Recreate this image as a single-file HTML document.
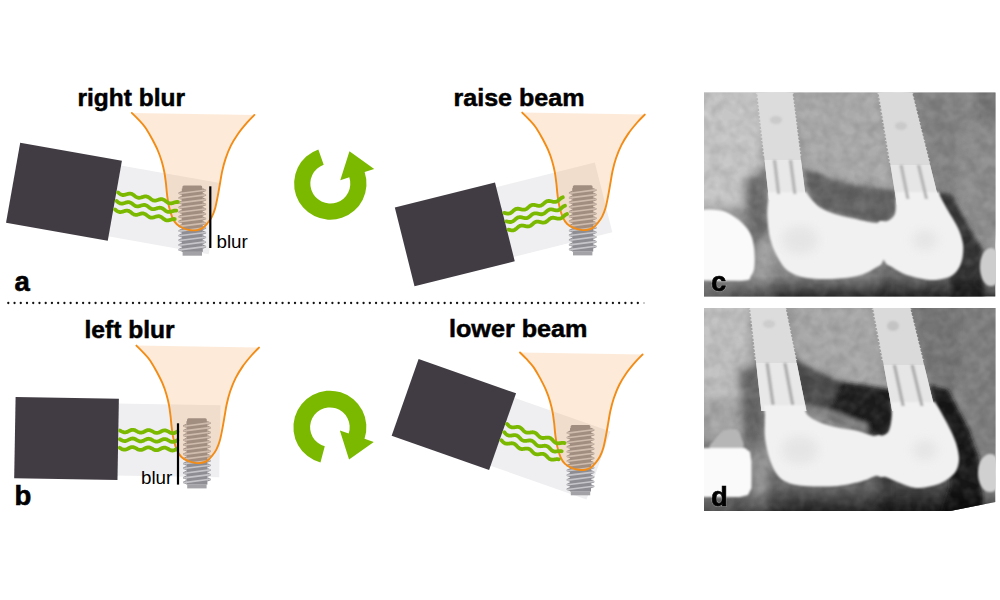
<!DOCTYPE html>
<html><head><meta charset="utf-8"><style>
html,body{margin:0;padding:0;background:#fff;}
body{width:1000px;height:600px;overflow:hidden;}
svg{display:block;}
text{font-family:"Liberation Sans",sans-serif;}
</style></head><body>
<svg width="1000" height="600" viewBox="0 0 1000 600">
<defs>
<g id="implant"><rect x="50.6" y="72.6" width="19.8" height="5" rx="1.5" fill="#8d8d93"/>
<rect x="50.0" y="75.6" width="21.0" height="63.4" fill="#8d8d93"/>
<path d="M50.0,78.1 L46.7,79.7 L46.7,81.1 L50.0,82.2 Z" fill="#8d8d93"/>
<path d="M71.0,75.3 L74.3,76.8 L74.3,78.2 L71.0,79.4 Z" fill="#8d8d93"/>
<line x1="47.6" y1="80.6" x2="73.4" y2="77.3" stroke="#c6c6ca" stroke-width="1.6" stroke-linecap="round"/>
<path d="M50.0,82.8 L46.7,84.4 L46.7,85.8 L50.0,86.9 Z" fill="#8d8d93"/>
<path d="M71.0,80.0 L74.3,81.5 L74.3,82.9 L71.0,84.1 Z" fill="#8d8d93"/>
<line x1="47.6" y1="85.3" x2="73.4" y2="82.0" stroke="#c6c6ca" stroke-width="1.6" stroke-linecap="round"/>
<path d="M50.0,87.5 L46.7,89.1 L46.7,90.5 L50.0,91.6 Z" fill="#8d8d93"/>
<path d="M71.0,84.7 L74.3,86.2 L74.3,87.6 L71.0,88.8 Z" fill="#8d8d93"/>
<line x1="47.6" y1="90.0" x2="73.4" y2="86.7" stroke="#c6c6ca" stroke-width="1.6" stroke-linecap="round"/>
<path d="M50.0,92.2 L46.7,93.8 L46.7,95.2 L50.0,96.3 Z" fill="#8d8d93"/>
<path d="M71.0,89.4 L74.3,90.9 L74.3,92.3 L71.0,93.5 Z" fill="#8d8d93"/>
<line x1="47.6" y1="94.7" x2="73.4" y2="91.4" stroke="#c6c6ca" stroke-width="1.6" stroke-linecap="round"/>
<path d="M50.0,96.9 L46.7,98.5 L46.7,99.9 L50.0,101.0 Z" fill="#8d8d93"/>
<path d="M71.0,94.1 L74.3,95.6 L74.3,97.0 L71.0,98.2 Z" fill="#8d8d93"/>
<line x1="47.6" y1="99.4" x2="73.4" y2="96.1" stroke="#c6c6ca" stroke-width="1.6" stroke-linecap="round"/>
<path d="M50.0,101.6 L46.7,103.2 L46.7,104.6 L50.0,105.7 Z" fill="#8d8d93"/>
<path d="M71.0,98.8 L74.3,100.3 L74.3,101.7 L71.0,102.9 Z" fill="#8d8d93"/>
<line x1="47.6" y1="104.1" x2="73.4" y2="100.8" stroke="#c6c6ca" stroke-width="1.6" stroke-linecap="round"/>
<path d="M50.0,106.3 L46.7,107.9 L46.7,109.3 L50.0,110.4 Z" fill="#8d8d93"/>
<path d="M71.0,103.5 L74.3,105.0 L74.3,106.4 L71.0,107.6 Z" fill="#8d8d93"/>
<line x1="47.6" y1="108.8" x2="73.4" y2="105.5" stroke="#c6c6ca" stroke-width="1.6" stroke-linecap="round"/>
<path d="M50.0,111.0 L46.7,112.6 L46.7,114.0 L50.0,115.1 Z" fill="#8d8d93"/>
<path d="M71.0,108.2 L74.3,109.7 L74.3,111.1 L71.0,112.3 Z" fill="#8d8d93"/>
<line x1="47.6" y1="113.5" x2="73.4" y2="110.2" stroke="#c6c6ca" stroke-width="1.6" stroke-linecap="round"/>
<path d="M50.0,115.7 L46.7,117.3 L46.7,118.7 L50.0,119.8 Z" fill="#8d8d93"/>
<path d="M71.0,112.9 L74.3,114.4 L74.3,115.8 L71.0,117.0 Z" fill="#8d8d93"/>
<line x1="47.6" y1="118.2" x2="73.4" y2="114.9" stroke="#c6c6ca" stroke-width="1.6" stroke-linecap="round"/>
<path d="M50.0,120.4 L46.7,122.0 L46.7,123.4 L50.0,124.5 Z" fill="#8d8d93"/>
<path d="M71.0,117.6 L74.3,119.1 L74.3,120.5 L71.0,121.7 Z" fill="#8d8d93"/>
<line x1="47.6" y1="122.9" x2="73.4" y2="119.6" stroke="#c6c6ca" stroke-width="1.6" stroke-linecap="round"/>
<path d="M50.0,125.1 L46.7,126.7 L46.7,128.1 L50.0,129.2 Z" fill="#8d8d93"/>
<path d="M71.0,122.3 L74.3,123.8 L74.3,125.2 L71.0,126.4 Z" fill="#8d8d93"/>
<line x1="47.6" y1="127.6" x2="73.4" y2="124.3" stroke="#c6c6ca" stroke-width="1.6" stroke-linecap="round"/>
<path d="M50.0,129.8 L46.7,131.4 L46.7,132.8 L50.0,133.9 Z" fill="#8d8d93"/>
<path d="M71.0,127.0 L74.3,128.5 L74.3,129.9 L71.0,131.1 Z" fill="#8d8d93"/>
<line x1="47.6" y1="132.3" x2="73.4" y2="129.0" stroke="#c6c6ca" stroke-width="1.6" stroke-linecap="round"/>
<path d="M50.0,134.5 L46.7,136.1 L46.7,137.5 L50.0,138.6 Z" fill="#8d8d93"/>
<path d="M71.0,131.7 L74.3,133.2 L74.3,134.6 L71.0,135.8 Z" fill="#8d8d93"/>
<line x1="47.6" y1="137.0" x2="73.4" y2="133.7" stroke="#c6c6ca" stroke-width="1.6" stroke-linecap="round"/>
<rect x="50.8" y="138.8" width="19.4" height="4.0" fill="#a3a3a7"/></g>
<clipPath id="toothclip"><path d="M0.0,0.0 C1.1,1.1 4.4,4.3 6.7,6.7 C8.9,9.1 11.2,11.4 13.5,14.6 C15.8,17.8 18.1,22.2 20.2,25.9 C22.2,29.7 24.2,33.3 25.8,37.1 C27.4,40.8 28.8,44.7 29.9,48.4 C31.0,52.2 31.9,55.8 32.6,59.6 C33.3,63.3 33.7,67.2 34.2,70.9 C34.6,74.7 34.8,78.3 35.3,82.1 C35.8,85.8 36.2,89.7 37.1,93.4 C38.0,97.2 39.2,101.6 40.5,104.6 C41.8,107.6 43.1,109.6 45.0,111.4 C46.9,113.2 49.7,114.6 52.0,115.6 C54.3,116.6 56.8,117.0 59.0,117.3 C61.2,117.6 63.5,117.6 65.5,117.2 C67.5,116.8 69.3,116.1 71.0,115.0 C72.7,113.9 73.9,112.4 75.4,110.6 C76.9,108.8 78.5,106.8 79.8,104.3 C81.1,101.8 82.3,99.0 83.3,95.5 C84.3,92.0 85.2,87.2 86.0,83.0 C86.8,78.8 87.5,74.6 88.2,70.6 C88.9,66.5 89.4,62.9 90.3,58.7 C91.2,54.6 92.3,50.1 93.8,45.7 C95.3,41.3 97.1,36.6 99.2,32.5 C101.3,28.3 103.7,24.6 106.3,20.8 C108.9,17.0 112.3,13.0 115.0,9.9 C117.7,6.8 121.3,3.3 122.6,2.0 Z"/></clipPath>
</defs>

<g transform="translate(20.20,142.80) rotate(10.03)">
<rect x="100" y="4.8" width="105" height="72" fill="#efeff1"/>
<rect x="0" y="0" width="103.3" height="81.3" fill="#413c43"/>
</g>
<g transform="translate(15.60,396.90) rotate(1.00)">
<rect x="100" y="4.8" width="105" height="72" fill="#efeff1"/>
<rect x="0" y="0" width="103.3" height="81.3" fill="#413c43"/>
</g>
<g transform="translate(394.80,207.50) rotate(-14.04)">
<rect x="100" y="4.8" width="105" height="72" fill="#efeff1"/>
<rect x="0" y="0" width="103.3" height="81.3" fill="#413c43"/>
</g>
<g transform="translate(418.60,359.10) rotate(19.36)">
<rect x="100" y="4.8" width="105" height="72" fill="#efeff1"/>
<rect x="0" y="0" width="103.3" height="81.3" fill="#413c43"/>
</g>
<clipPath id="notooth"><path clip-rule="evenodd" d="M0,0 H1000 V600 H0 Z M131.8,112.9 C132.9,114.0 136.2,117.2 138.5,119.6 C140.8,122.0 143.1,124.3 145.3,127.5 C147.6,130.7 149.9,135.1 152.0,138.8 C154.1,142.6 156.0,146.2 157.6,150.0 C159.2,153.8 160.6,157.6 161.7,161.3 C162.8,165.1 163.7,168.8 164.4,172.5 C165.1,176.2 165.6,180.1 166.0,183.8 C166.4,187.6 166.6,191.2 167.1,195.0 C167.6,198.8 168.0,202.6 168.9,206.3 C169.8,210.1 171.0,214.5 172.3,217.5 C173.6,220.5 174.9,222.5 176.8,224.3 C178.7,226.1 181.5,227.5 183.8,228.5 C186.1,229.5 188.6,229.9 190.8,230.2 C193.1,230.5 195.3,230.5 197.3,230.1 C199.3,229.7 201.2,229.0 202.8,227.9 C204.5,226.8 205.7,225.3 207.2,223.5 C208.7,221.7 210.3,219.7 211.6,217.2 C212.9,214.7 214.1,211.9 215.1,208.4 C216.1,204.9 217.0,200.1 217.8,195.9 C218.6,191.8 219.3,187.6 220.0,183.5 C220.7,179.4 221.2,175.8 222.1,171.6 C223.0,167.5 224.1,163.0 225.6,158.6 C227.1,154.2 228.9,149.6 231.0,145.4 C233.1,141.2 235.5,137.5 238.1,133.7 C240.7,129.9 244.1,125.9 246.8,122.8 C249.5,119.7 253.1,116.2 254.4,114.9 Z"/></clipPath><rect x="211.4" y="176" width="14" height="72" fill="#fff" clip-path="url(#notooth)"/>
<g transform="translate(131.80,112.90)">
<use href="#implant"/>
<path d="M0.0,0.0 C1.1,1.1 4.4,4.3 6.7,6.7 C8.9,9.1 11.2,11.4 13.5,14.6 C15.8,17.8 18.1,22.2 20.2,25.9 C22.2,29.7 24.2,33.3 25.8,37.1 C27.4,40.8 28.8,44.7 29.9,48.4 C31.0,52.2 31.9,55.8 32.6,59.6 C33.3,63.3 33.7,67.2 34.2,70.9 C34.6,74.7 34.8,78.3 35.3,82.1 C35.8,85.8 36.2,89.7 37.1,93.4 C38.0,97.2 39.2,101.6 40.5,104.6 C41.8,107.6 43.1,109.6 45.0,111.4 C46.9,113.2 49.7,114.6 52.0,115.6 C54.3,116.6 56.8,117.0 59.0,117.3 C61.2,117.6 63.5,117.6 65.5,117.2 C67.5,116.8 69.3,116.1 71.0,115.0 C72.7,113.9 73.9,112.4 75.4,110.6 C76.9,108.8 78.5,106.8 79.8,104.3 C81.1,101.8 82.3,99.0 83.3,95.5 C84.3,92.0 85.2,87.2 86.0,83.0 C86.8,78.8 87.5,74.6 88.2,70.6 C88.9,66.5 89.4,62.9 90.3,58.7 C91.2,54.6 92.3,50.1 93.8,45.7 C95.3,41.3 97.1,36.6 99.2,32.5 C101.3,28.3 103.7,24.6 106.3,20.8 C108.9,17.0 112.3,13.0 115.0,9.9 C117.7,6.8 121.3,3.3 122.6,2.0 Z" fill="rgba(245,150,60,0.2)"/>
<path d="M0.0,0.0 C1.1,1.1 4.4,4.3 6.7,6.7 C8.9,9.1 11.2,11.4 13.5,14.6 C15.8,17.8 18.1,22.2 20.2,25.9 C22.2,29.7 24.2,33.3 25.8,37.1 C27.4,40.8 28.8,44.7 29.9,48.4 C31.0,52.2 31.9,55.8 32.6,59.6 C33.3,63.3 33.7,67.2 34.2,70.9 C34.6,74.7 34.8,78.3 35.3,82.1 C35.8,85.8 36.2,89.7 37.1,93.4 C38.0,97.2 39.2,101.6 40.5,104.6 C41.8,107.6 43.1,109.6 45.0,111.4 C46.9,113.2 49.7,114.6 52.0,115.6 C54.3,116.6 56.8,117.0 59.0,117.3 C61.2,117.6 63.5,117.6 65.5,117.2 C67.5,116.8 69.3,116.1 71.0,115.0 C72.7,113.9 73.9,112.4 75.4,110.6 C76.9,108.8 78.5,106.8 79.8,104.3 C81.1,101.8 82.3,99.0 83.3,95.5 C84.3,92.0 85.2,87.2 86.0,83.0 C86.8,78.8 87.5,74.6 88.2,70.6 C88.9,66.5 89.4,62.9 90.3,58.7 C91.2,54.6 92.3,50.1 93.8,45.7 C95.3,41.3 97.1,36.6 99.2,32.5 C101.3,28.3 103.7,24.6 106.3,20.8 C108.9,17.0 112.3,13.0 115.0,9.9 C117.7,6.8 121.3,3.3 122.6,2.0" fill="none" stroke="#f28c16" stroke-width="1.9" stroke-linecap="round"/>
</g>
<g transform="translate(136.40,345.60)">
<use href="#implant"/>
<path d="M0.0,0.0 C1.1,1.1 4.4,4.3 6.7,6.7 C8.9,9.1 11.2,11.4 13.5,14.6 C15.8,17.8 18.1,22.2 20.2,25.9 C22.2,29.7 24.2,33.3 25.8,37.1 C27.4,40.8 28.8,44.7 29.9,48.4 C31.0,52.2 31.9,55.8 32.6,59.6 C33.3,63.3 33.7,67.2 34.2,70.9 C34.6,74.7 34.8,78.3 35.3,82.1 C35.8,85.8 36.2,89.7 37.1,93.4 C38.0,97.2 39.2,101.6 40.5,104.6 C41.8,107.6 43.1,109.6 45.0,111.4 C46.9,113.2 49.7,114.6 52.0,115.6 C54.3,116.6 56.8,117.0 59.0,117.3 C61.2,117.6 63.5,117.6 65.5,117.2 C67.5,116.8 69.3,116.1 71.0,115.0 C72.7,113.9 73.9,112.4 75.4,110.6 C76.9,108.8 78.5,106.8 79.8,104.3 C81.1,101.8 82.3,99.0 83.3,95.5 C84.3,92.0 85.2,87.2 86.0,83.0 C86.8,78.8 87.5,74.6 88.2,70.6 C88.9,66.5 89.4,62.9 90.3,58.7 C91.2,54.6 92.3,50.1 93.8,45.7 C95.3,41.3 97.1,36.6 99.2,32.5 C101.3,28.3 103.7,24.6 106.3,20.8 C108.9,17.0 112.3,13.0 115.0,9.9 C117.7,6.8 121.3,3.3 122.6,2.0 Z" fill="rgba(245,150,60,0.2)"/>
<path d="M0.0,0.0 C1.1,1.1 4.4,4.3 6.7,6.7 C8.9,9.1 11.2,11.4 13.5,14.6 C15.8,17.8 18.1,22.2 20.2,25.9 C22.2,29.7 24.2,33.3 25.8,37.1 C27.4,40.8 28.8,44.7 29.9,48.4 C31.0,52.2 31.9,55.8 32.6,59.6 C33.3,63.3 33.7,67.2 34.2,70.9 C34.6,74.7 34.8,78.3 35.3,82.1 C35.8,85.8 36.2,89.7 37.1,93.4 C38.0,97.2 39.2,101.6 40.5,104.6 C41.8,107.6 43.1,109.6 45.0,111.4 C46.9,113.2 49.7,114.6 52.0,115.6 C54.3,116.6 56.8,117.0 59.0,117.3 C61.2,117.6 63.5,117.6 65.5,117.2 C67.5,116.8 69.3,116.1 71.0,115.0 C72.7,113.9 73.9,112.4 75.4,110.6 C76.9,108.8 78.5,106.8 79.8,104.3 C81.1,101.8 82.3,99.0 83.3,95.5 C84.3,92.0 85.2,87.2 86.0,83.0 C86.8,78.8 87.5,74.6 88.2,70.6 C88.9,66.5 89.4,62.9 90.3,58.7 C91.2,54.6 92.3,50.1 93.8,45.7 C95.3,41.3 97.1,36.6 99.2,32.5 C101.3,28.3 103.7,24.6 106.3,20.8 C108.9,17.0 112.3,13.0 115.0,9.9 C117.7,6.8 121.3,3.3 122.6,2.0" fill="none" stroke="#f28c16" stroke-width="1.9" stroke-linecap="round"/>
</g>
<g transform="translate(522.20,112.60)">
<use href="#implant"/>
<path d="M0.0,0.0 C1.1,1.1 4.4,4.3 6.7,6.7 C8.9,9.1 11.2,11.4 13.5,14.6 C15.8,17.8 18.1,22.2 20.2,25.9 C22.2,29.7 24.2,33.3 25.8,37.1 C27.4,40.8 28.8,44.7 29.9,48.4 C31.0,52.2 31.9,55.8 32.6,59.6 C33.3,63.3 33.7,67.2 34.2,70.9 C34.6,74.7 34.8,78.3 35.3,82.1 C35.8,85.8 36.2,89.7 37.1,93.4 C38.0,97.2 39.2,101.6 40.5,104.6 C41.8,107.6 43.1,109.6 45.0,111.4 C46.9,113.2 49.7,114.6 52.0,115.6 C54.3,116.6 56.8,117.0 59.0,117.3 C61.2,117.6 63.5,117.6 65.5,117.2 C67.5,116.8 69.3,116.1 71.0,115.0 C72.7,113.9 73.9,112.4 75.4,110.6 C76.9,108.8 78.5,106.8 79.8,104.3 C81.1,101.8 82.3,99.0 83.3,95.5 C84.3,92.0 85.2,87.2 86.0,83.0 C86.8,78.8 87.5,74.6 88.2,70.6 C88.9,66.5 89.4,62.9 90.3,58.7 C91.2,54.6 92.3,50.1 93.8,45.7 C95.3,41.3 97.1,36.6 99.2,32.5 C101.3,28.3 103.7,24.6 106.3,20.8 C108.9,17.0 112.3,13.0 115.0,9.9 C117.7,6.8 121.3,3.3 122.6,2.0 Z" fill="rgba(245,150,60,0.2)"/>
<path d="M0.0,0.0 C1.1,1.1 4.4,4.3 6.7,6.7 C8.9,9.1 11.2,11.4 13.5,14.6 C15.8,17.8 18.1,22.2 20.2,25.9 C22.2,29.7 24.2,33.3 25.8,37.1 C27.4,40.8 28.8,44.7 29.9,48.4 C31.0,52.2 31.9,55.8 32.6,59.6 C33.3,63.3 33.7,67.2 34.2,70.9 C34.6,74.7 34.8,78.3 35.3,82.1 C35.8,85.8 36.2,89.7 37.1,93.4 C38.0,97.2 39.2,101.6 40.5,104.6 C41.8,107.6 43.1,109.6 45.0,111.4 C46.9,113.2 49.7,114.6 52.0,115.6 C54.3,116.6 56.8,117.0 59.0,117.3 C61.2,117.6 63.5,117.6 65.5,117.2 C67.5,116.8 69.3,116.1 71.0,115.0 C72.7,113.9 73.9,112.4 75.4,110.6 C76.9,108.8 78.5,106.8 79.8,104.3 C81.1,101.8 82.3,99.0 83.3,95.5 C84.3,92.0 85.2,87.2 86.0,83.0 C86.8,78.8 87.5,74.6 88.2,70.6 C88.9,66.5 89.4,62.9 90.3,58.7 C91.2,54.6 92.3,50.1 93.8,45.7 C95.3,41.3 97.1,36.6 99.2,32.5 C101.3,28.3 103.7,24.6 106.3,20.8 C108.9,17.0 112.3,13.0 115.0,9.9 C117.7,6.8 121.3,3.3 122.6,2.0" fill="none" stroke="#f28c16" stroke-width="1.9" stroke-linecap="round"/>
</g>
<g transform="translate(520.00,352.50)">
<use href="#implant"/>
<path d="M0.0,0.0 C1.1,1.1 4.4,4.3 6.7,6.7 C8.9,9.1 11.2,11.4 13.5,14.6 C15.8,17.8 18.1,22.2 20.2,25.9 C22.2,29.7 24.2,33.3 25.8,37.1 C27.4,40.8 28.8,44.7 29.9,48.4 C31.0,52.2 31.9,55.8 32.6,59.6 C33.3,63.3 33.7,67.2 34.2,70.9 C34.6,74.7 34.8,78.3 35.3,82.1 C35.8,85.8 36.2,89.7 37.1,93.4 C38.0,97.2 39.2,101.6 40.5,104.6 C41.8,107.6 43.1,109.6 45.0,111.4 C46.9,113.2 49.7,114.6 52.0,115.6 C54.3,116.6 56.8,117.0 59.0,117.3 C61.2,117.6 63.5,117.6 65.5,117.2 C67.5,116.8 69.3,116.1 71.0,115.0 C72.7,113.9 73.9,112.4 75.4,110.6 C76.9,108.8 78.5,106.8 79.8,104.3 C81.1,101.8 82.3,99.0 83.3,95.5 C84.3,92.0 85.2,87.2 86.0,83.0 C86.8,78.8 87.5,74.6 88.2,70.6 C88.9,66.5 89.4,62.9 90.3,58.7 C91.2,54.6 92.3,50.1 93.8,45.7 C95.3,41.3 97.1,36.6 99.2,32.5 C101.3,28.3 103.7,24.6 106.3,20.8 C108.9,17.0 112.3,13.0 115.0,9.9 C117.7,6.8 121.3,3.3 122.6,2.0 Z" fill="rgba(245,150,60,0.2)"/>
<path d="M0.0,0.0 C1.1,1.1 4.4,4.3 6.7,6.7 C8.9,9.1 11.2,11.4 13.5,14.6 C15.8,17.8 18.1,22.2 20.2,25.9 C22.2,29.7 24.2,33.3 25.8,37.1 C27.4,40.8 28.8,44.7 29.9,48.4 C31.0,52.2 31.9,55.8 32.6,59.6 C33.3,63.3 33.7,67.2 34.2,70.9 C34.6,74.7 34.8,78.3 35.3,82.1 C35.8,85.8 36.2,89.7 37.1,93.4 C38.0,97.2 39.2,101.6 40.5,104.6 C41.8,107.6 43.1,109.6 45.0,111.4 C46.9,113.2 49.7,114.6 52.0,115.6 C54.3,116.6 56.8,117.0 59.0,117.3 C61.2,117.6 63.5,117.6 65.5,117.2 C67.5,116.8 69.3,116.1 71.0,115.0 C72.7,113.9 73.9,112.4 75.4,110.6 C76.9,108.8 78.5,106.8 79.8,104.3 C81.1,101.8 82.3,99.0 83.3,95.5 C84.3,92.0 85.2,87.2 86.0,83.0 C86.8,78.8 87.5,74.6 88.2,70.6 C88.9,66.5 89.4,62.9 90.3,58.7 C91.2,54.6 92.3,50.1 93.8,45.7 C95.3,41.3 97.1,36.6 99.2,32.5 C101.3,28.3 103.7,24.6 106.3,20.8 C108.9,17.0 112.3,13.0 115.0,9.9 C117.7,6.8 121.3,3.3 122.6,2.0" fill="none" stroke="#f28c16" stroke-width="1.9" stroke-linecap="round"/>
</g>
<g transform="translate(20.20,142.80) rotate(10.03)" fill="none" stroke="#7ab900" stroke-width="3.8" stroke-linecap="round">
<path d="M105.00,31.83 L105.50,32.09 L106.00,32.36 L106.50,32.62 L107.00,32.86 L107.50,33.08 L108.00,33.26 L108.50,33.40 L109.00,33.50 L109.50,33.55 L110.00,33.54 L110.50,33.48 L111.00,33.38 L111.50,33.23 L112.00,33.04 L112.50,32.81 L113.00,32.57 L113.50,32.31 L114.00,32.04 L114.50,31.78 L115.00,31.54 L115.50,31.32 L116.00,31.14 L116.50,31.00 L117.00,30.90 L117.50,30.85 L118.00,30.86 L118.50,30.92 L119.00,31.02 L119.50,31.17 L120.00,31.36 L120.50,31.59 L121.00,31.83 L121.50,32.09 L122.00,32.36 L122.50,32.62 L123.00,32.86 L123.50,33.08 L124.00,33.26 L124.50,33.40 L125.00,33.50 L125.50,33.55 L126.00,33.54 L126.50,33.48 L127.00,33.38 L127.50,33.23 L128.00,33.04 L128.50,32.81 L129.00,32.57 L129.50,32.31 L130.00,32.04 L130.50,31.78 L131.00,31.54 L131.50,31.32 L132.00,31.14 L132.50,31.00 L133.00,30.90 L133.50,30.85 L134.00,30.86 L134.50,30.92 L135.00,31.02 L135.50,31.17 L136.00,31.36 L136.50,31.59 L137.00,31.83 L137.50,32.09 L138.00,32.36 L138.50,32.62 L139.00,32.86 L139.50,33.08 L140.00,33.26 L140.50,33.40 L141.00,33.50 L141.50,33.55 L142.00,33.54 L142.50,33.48 L143.00,33.38 L143.50,33.23 L144.00,33.04 L144.50,32.81 L145.00,32.57 L145.50,32.31 L146.00,32.04 L146.50,31.78 L147.00,31.54 L147.50,31.32 L148.00,31.14 L148.50,31.00 L149.00,30.90 L149.50,30.85 L150.00,30.86 L150.50,30.92 L151.00,31.02 L151.50,31.17 L152.00,31.36 L152.50,31.59 L153.00,31.83 L153.50,32.09 L154.00,32.36 L154.50,32.62 L155.00,32.86 L155.50,33.08 L156.00,33.26 L156.50,33.40 L157.00,33.50 L157.50,33.55 L158.00,33.54 L158.50,33.48 L159.00,33.38 L159.50,33.23 L160.00,33.04 L160.50,32.81 L161.00,32.57 L161.50,32.31 L162.00,32.04 L162.50,31.78 L163.00,31.54 L163.50,31.32 L164.00,31.14 L164.50,31.00 L165.00,30.90 L165.50,30.85"/>
<path d="M105.00,40.53 L105.50,40.79 L106.00,41.06 L106.50,41.32 L107.00,41.56 L107.50,41.78 L108.00,41.96 L108.50,42.10 L109.00,42.20 L109.50,42.25 L110.00,42.24 L110.50,42.18 L111.00,42.08 L111.50,41.93 L112.00,41.74 L112.50,41.51 L113.00,41.27 L113.50,41.01 L114.00,40.74 L114.50,40.48 L115.00,40.24 L115.50,40.02 L116.00,39.84 L116.50,39.70 L117.00,39.60 L117.50,39.55 L118.00,39.56 L118.50,39.62 L119.00,39.72 L119.50,39.87 L120.00,40.06 L120.50,40.29 L121.00,40.53 L121.50,40.79 L122.00,41.06 L122.50,41.32 L123.00,41.56 L123.50,41.78 L124.00,41.96 L124.50,42.10 L125.00,42.20 L125.50,42.25 L126.00,42.24 L126.50,42.18 L127.00,42.08 L127.50,41.93 L128.00,41.74 L128.50,41.51 L129.00,41.27 L129.50,41.01 L130.00,40.74 L130.50,40.48 L131.00,40.24 L131.50,40.02 L132.00,39.84 L132.50,39.70 L133.00,39.60 L133.50,39.55 L134.00,39.56 L134.50,39.62 L135.00,39.72 L135.50,39.87 L136.00,40.06 L136.50,40.29 L137.00,40.53 L137.50,40.79 L138.00,41.06 L138.50,41.32 L139.00,41.56 L139.50,41.78 L140.00,41.96 L140.50,42.10 L141.00,42.20 L141.50,42.25 L142.00,42.24 L142.50,42.18 L143.00,42.08 L143.50,41.93 L144.00,41.74 L144.50,41.51 L145.00,41.27 L145.50,41.01 L146.00,40.74 L146.50,40.48 L147.00,40.24 L147.50,40.02 L148.00,39.84 L148.50,39.70 L149.00,39.60 L149.50,39.55 L150.00,39.56 L150.50,39.62 L151.00,39.72 L151.50,39.87 L152.00,40.06 L152.50,40.29 L153.00,40.53 L153.50,40.79 L154.00,41.06 L154.50,41.32 L155.00,41.56 L155.50,41.78 L156.00,41.96 L156.50,42.10 L157.00,42.20 L157.50,42.25 L158.00,42.24 L158.50,42.18 L159.00,42.08 L159.50,41.93 L160.00,41.74 L160.50,41.51 L161.00,41.27 L161.50,41.01 L162.00,40.74 L162.50,40.48 L163.00,40.24 L163.50,40.02 L164.00,39.84 L164.50,39.70 L165.00,39.60 L165.50,39.55"/>
<path d="M105.00,49.13 L105.50,49.39 L106.00,49.66 L106.50,49.92 L107.00,50.16 L107.50,50.38 L108.00,50.56 L108.50,50.70 L109.00,50.80 L109.50,50.85 L110.00,50.84 L110.50,50.78 L111.00,50.68 L111.50,50.53 L112.00,50.34 L112.50,50.11 L113.00,49.87 L113.50,49.61 L114.00,49.34 L114.50,49.08 L115.00,48.84 L115.50,48.62 L116.00,48.44 L116.50,48.30 L117.00,48.20 L117.50,48.15 L118.00,48.16 L118.50,48.22 L119.00,48.32 L119.50,48.47 L120.00,48.66 L120.50,48.89 L121.00,49.13 L121.50,49.39 L122.00,49.66 L122.50,49.92 L123.00,50.16 L123.50,50.38 L124.00,50.56 L124.50,50.70 L125.00,50.80 L125.50,50.85 L126.00,50.84 L126.50,50.78 L127.00,50.68 L127.50,50.53 L128.00,50.34 L128.50,50.11 L129.00,49.87 L129.50,49.61 L130.00,49.34 L130.50,49.08 L131.00,48.84 L131.50,48.62 L132.00,48.44 L132.50,48.30 L133.00,48.20 L133.50,48.15 L134.00,48.16 L134.50,48.22 L135.00,48.32 L135.50,48.47 L136.00,48.66 L136.50,48.89 L137.00,49.13 L137.50,49.39 L138.00,49.66 L138.50,49.92 L139.00,50.16 L139.50,50.38 L140.00,50.56 L140.50,50.70 L141.00,50.80 L141.50,50.85 L142.00,50.84 L142.50,50.78 L143.00,50.68 L143.50,50.53 L144.00,50.34 L144.50,50.11 L145.00,49.87 L145.50,49.61 L146.00,49.34 L146.50,49.08 L147.00,48.84 L147.50,48.62 L148.00,48.44 L148.50,48.30 L149.00,48.20 L149.50,48.15 L150.00,48.16 L150.50,48.22 L151.00,48.32 L151.50,48.47 L152.00,48.66 L152.50,48.89 L153.00,49.13 L153.50,49.39 L154.00,49.66 L154.50,49.92 L155.00,50.16 L155.50,50.38 L156.00,50.56 L156.50,50.70 L157.00,50.80 L157.50,50.85 L158.00,50.84 L158.50,50.78 L159.00,50.68 L159.50,50.53 L160.00,50.34 L160.50,50.11 L161.00,49.87 L161.50,49.61 L162.00,49.34 L162.50,49.08 L163.00,48.84 L163.50,48.62 L164.00,48.44 L164.50,48.30 L165.00,48.20 L165.50,48.15"/>
</g>
<g transform="translate(15.60,396.90) rotate(1.00)" fill="none" stroke="#7ab900" stroke-width="3.8" stroke-linecap="round">
<path d="M105.00,31.83 L105.50,32.09 L106.00,32.36 L106.50,32.62 L107.00,32.86 L107.50,33.08 L108.00,33.26 L108.50,33.40 L109.00,33.50 L109.50,33.55 L110.00,33.54 L110.50,33.48 L111.00,33.38 L111.50,33.23 L112.00,33.04 L112.50,32.81 L113.00,32.57 L113.50,32.31 L114.00,32.04 L114.50,31.78 L115.00,31.54 L115.50,31.32 L116.00,31.14 L116.50,31.00 L117.00,30.90 L117.50,30.85 L118.00,30.86 L118.50,30.92 L119.00,31.02 L119.50,31.17 L120.00,31.36 L120.50,31.59 L121.00,31.83 L121.50,32.09 L122.00,32.36 L122.50,32.62 L123.00,32.86 L123.50,33.08 L124.00,33.26 L124.50,33.40 L125.00,33.50 L125.50,33.55 L126.00,33.54 L126.50,33.48 L127.00,33.38 L127.50,33.23 L128.00,33.04 L128.50,32.81 L129.00,32.57 L129.50,32.31 L130.00,32.04 L130.50,31.78 L131.00,31.54 L131.50,31.32 L132.00,31.14 L132.50,31.00 L133.00,30.90 L133.50,30.85 L134.00,30.86 L134.50,30.92 L135.00,31.02 L135.50,31.17 L136.00,31.36 L136.50,31.59 L137.00,31.83 L137.50,32.09 L138.00,32.36 L138.50,32.62 L139.00,32.86 L139.50,33.08 L140.00,33.26 L140.50,33.40 L141.00,33.50 L141.50,33.55 L142.00,33.54 L142.50,33.48 L143.00,33.38 L143.50,33.23 L144.00,33.04 L144.50,32.81 L145.00,32.57 L145.50,32.31 L146.00,32.04 L146.50,31.78 L147.00,31.54 L147.50,31.32 L148.00,31.14 L148.50,31.00 L149.00,30.90 L149.50,30.85 L150.00,30.86 L150.50,30.92 L151.00,31.02 L151.50,31.17 L152.00,31.36 L152.50,31.59 L153.00,31.83 L153.50,32.09 L154.00,32.36 L154.50,32.62 L155.00,32.86 L155.50,33.08 L156.00,33.26 L156.50,33.40 L157.00,33.50 L157.50,33.55 L158.00,33.54 L158.50,33.48 L159.00,33.38 L159.50,33.23 L160.00,33.04 L160.50,32.81 L161.00,32.57 L161.50,32.31 L162.00,32.04 L162.50,31.78"/>
<path d="M105.00,40.53 L105.50,40.79 L106.00,41.06 L106.50,41.32 L107.00,41.56 L107.50,41.78 L108.00,41.96 L108.50,42.10 L109.00,42.20 L109.50,42.25 L110.00,42.24 L110.50,42.18 L111.00,42.08 L111.50,41.93 L112.00,41.74 L112.50,41.51 L113.00,41.27 L113.50,41.01 L114.00,40.74 L114.50,40.48 L115.00,40.24 L115.50,40.02 L116.00,39.84 L116.50,39.70 L117.00,39.60 L117.50,39.55 L118.00,39.56 L118.50,39.62 L119.00,39.72 L119.50,39.87 L120.00,40.06 L120.50,40.29 L121.00,40.53 L121.50,40.79 L122.00,41.06 L122.50,41.32 L123.00,41.56 L123.50,41.78 L124.00,41.96 L124.50,42.10 L125.00,42.20 L125.50,42.25 L126.00,42.24 L126.50,42.18 L127.00,42.08 L127.50,41.93 L128.00,41.74 L128.50,41.51 L129.00,41.27 L129.50,41.01 L130.00,40.74 L130.50,40.48 L131.00,40.24 L131.50,40.02 L132.00,39.84 L132.50,39.70 L133.00,39.60 L133.50,39.55 L134.00,39.56 L134.50,39.62 L135.00,39.72 L135.50,39.87 L136.00,40.06 L136.50,40.29 L137.00,40.53 L137.50,40.79 L138.00,41.06 L138.50,41.32 L139.00,41.56 L139.50,41.78 L140.00,41.96 L140.50,42.10 L141.00,42.20 L141.50,42.25 L142.00,42.24 L142.50,42.18 L143.00,42.08 L143.50,41.93 L144.00,41.74 L144.50,41.51 L145.00,41.27 L145.50,41.01 L146.00,40.74 L146.50,40.48 L147.00,40.24 L147.50,40.02 L148.00,39.84 L148.50,39.70 L149.00,39.60 L149.50,39.55 L150.00,39.56 L150.50,39.62 L151.00,39.72 L151.50,39.87 L152.00,40.06 L152.50,40.29 L153.00,40.53 L153.50,40.79 L154.00,41.06 L154.50,41.32 L155.00,41.56 L155.50,41.78 L156.00,41.96 L156.50,42.10 L157.00,42.20 L157.50,42.25 L158.00,42.24 L158.50,42.18 L159.00,42.08 L159.50,41.93 L160.00,41.74 L160.50,41.51 L161.00,41.27 L161.50,41.01 L162.00,40.74 L162.50,40.48"/>
<path d="M105.00,49.13 L105.50,49.39 L106.00,49.66 L106.50,49.92 L107.00,50.16 L107.50,50.38 L108.00,50.56 L108.50,50.70 L109.00,50.80 L109.50,50.85 L110.00,50.84 L110.50,50.78 L111.00,50.68 L111.50,50.53 L112.00,50.34 L112.50,50.11 L113.00,49.87 L113.50,49.61 L114.00,49.34 L114.50,49.08 L115.00,48.84 L115.50,48.62 L116.00,48.44 L116.50,48.30 L117.00,48.20 L117.50,48.15 L118.00,48.16 L118.50,48.22 L119.00,48.32 L119.50,48.47 L120.00,48.66 L120.50,48.89 L121.00,49.13 L121.50,49.39 L122.00,49.66 L122.50,49.92 L123.00,50.16 L123.50,50.38 L124.00,50.56 L124.50,50.70 L125.00,50.80 L125.50,50.85 L126.00,50.84 L126.50,50.78 L127.00,50.68 L127.50,50.53 L128.00,50.34 L128.50,50.11 L129.00,49.87 L129.50,49.61 L130.00,49.34 L130.50,49.08 L131.00,48.84 L131.50,48.62 L132.00,48.44 L132.50,48.30 L133.00,48.20 L133.50,48.15 L134.00,48.16 L134.50,48.22 L135.00,48.32 L135.50,48.47 L136.00,48.66 L136.50,48.89 L137.00,49.13 L137.50,49.39 L138.00,49.66 L138.50,49.92 L139.00,50.16 L139.50,50.38 L140.00,50.56 L140.50,50.70 L141.00,50.80 L141.50,50.85 L142.00,50.84 L142.50,50.78 L143.00,50.68 L143.50,50.53 L144.00,50.34 L144.50,50.11 L145.00,49.87 L145.50,49.61 L146.00,49.34 L146.50,49.08 L147.00,48.84 L147.50,48.62 L148.00,48.44 L148.50,48.30 L149.00,48.20 L149.50,48.15 L150.00,48.16 L150.50,48.22 L151.00,48.32 L151.50,48.47 L152.00,48.66 L152.50,48.89 L153.00,49.13 L153.50,49.39 L154.00,49.66 L154.50,49.92 L155.00,50.16 L155.50,50.38 L156.00,50.56 L156.50,50.70 L157.00,50.80 L157.50,50.85 L158.00,50.84 L158.50,50.78 L159.00,50.68 L159.50,50.53 L160.00,50.34 L160.50,50.11 L161.00,49.87 L161.50,49.61 L162.00,49.34 L162.50,49.08"/>
</g>
<g transform="translate(394.80,207.50) rotate(-14.04)" fill="none" stroke="#7ab900" stroke-width="3.8" stroke-linecap="round">
<path d="M105.00,31.83 L105.50,32.09 L106.00,32.36 L106.50,32.62 L107.00,32.86 L107.50,33.08 L108.00,33.26 L108.50,33.40 L109.00,33.50 L109.50,33.55 L110.00,33.54 L110.50,33.48 L111.00,33.38 L111.50,33.23 L112.00,33.04 L112.50,32.81 L113.00,32.57 L113.50,32.31 L114.00,32.04 L114.50,31.78 L115.00,31.54 L115.50,31.32 L116.00,31.14 L116.50,31.00 L117.00,30.90 L117.50,30.85 L118.00,30.86 L118.50,30.92 L119.00,31.02 L119.50,31.17 L120.00,31.36 L120.50,31.59 L121.00,31.83 L121.50,32.09 L122.00,32.36 L122.50,32.62 L123.00,32.86 L123.50,33.08 L124.00,33.26 L124.50,33.40 L125.00,33.50 L125.50,33.55 L126.00,33.54 L126.50,33.48 L127.00,33.38 L127.50,33.23 L128.00,33.04 L128.50,32.81 L129.00,32.57 L129.50,32.31 L130.00,32.04 L130.50,31.78 L131.00,31.54 L131.50,31.32 L132.00,31.14 L132.50,31.00 L133.00,30.90 L133.50,30.85 L134.00,30.86 L134.50,30.92 L135.00,31.02 L135.50,31.17 L136.00,31.36 L136.50,31.59 L137.00,31.83 L137.50,32.09 L138.00,32.36 L138.50,32.62 L139.00,32.86 L139.50,33.08 L140.00,33.26 L140.50,33.40 L141.00,33.50 L141.50,33.55 L142.00,33.54 L142.50,33.48 L143.00,33.38 L143.50,33.23 L144.00,33.04 L144.50,32.81 L145.00,32.57 L145.50,32.31 L146.00,32.04 L146.50,31.78 L147.00,31.54 L147.50,31.32 L148.00,31.14 L148.50,31.00 L149.00,30.90 L149.50,30.85 L150.00,30.86 L150.50,30.92 L151.00,31.02 L151.50,31.17 L152.00,31.36 L152.50,31.59 L153.00,31.83 L153.50,32.09 L154.00,32.36 L154.50,32.62 L155.00,32.86 L155.50,33.08 L156.00,33.26 L156.50,33.40 L157.00,33.50 L157.50,33.55 L158.00,33.54 L158.50,33.48 L159.00,33.38 L159.50,33.23 L160.00,33.04 L160.50,32.81 L161.00,32.57 L161.50,32.31 L162.00,32.04 L162.50,31.78 L163.00,31.54 L163.50,31.32 L164.00,31.14 L164.50,31.00 L165.00,30.90 L165.50,30.85"/>
<path d="M105.00,40.53 L105.50,40.79 L106.00,41.06 L106.50,41.32 L107.00,41.56 L107.50,41.78 L108.00,41.96 L108.50,42.10 L109.00,42.20 L109.50,42.25 L110.00,42.24 L110.50,42.18 L111.00,42.08 L111.50,41.93 L112.00,41.74 L112.50,41.51 L113.00,41.27 L113.50,41.01 L114.00,40.74 L114.50,40.48 L115.00,40.24 L115.50,40.02 L116.00,39.84 L116.50,39.70 L117.00,39.60 L117.50,39.55 L118.00,39.56 L118.50,39.62 L119.00,39.72 L119.50,39.87 L120.00,40.06 L120.50,40.29 L121.00,40.53 L121.50,40.79 L122.00,41.06 L122.50,41.32 L123.00,41.56 L123.50,41.78 L124.00,41.96 L124.50,42.10 L125.00,42.20 L125.50,42.25 L126.00,42.24 L126.50,42.18 L127.00,42.08 L127.50,41.93 L128.00,41.74 L128.50,41.51 L129.00,41.27 L129.50,41.01 L130.00,40.74 L130.50,40.48 L131.00,40.24 L131.50,40.02 L132.00,39.84 L132.50,39.70 L133.00,39.60 L133.50,39.55 L134.00,39.56 L134.50,39.62 L135.00,39.72 L135.50,39.87 L136.00,40.06 L136.50,40.29 L137.00,40.53 L137.50,40.79 L138.00,41.06 L138.50,41.32 L139.00,41.56 L139.50,41.78 L140.00,41.96 L140.50,42.10 L141.00,42.20 L141.50,42.25 L142.00,42.24 L142.50,42.18 L143.00,42.08 L143.50,41.93 L144.00,41.74 L144.50,41.51 L145.00,41.27 L145.50,41.01 L146.00,40.74 L146.50,40.48 L147.00,40.24 L147.50,40.02 L148.00,39.84 L148.50,39.70 L149.00,39.60 L149.50,39.55 L150.00,39.56 L150.50,39.62 L151.00,39.72 L151.50,39.87 L152.00,40.06 L152.50,40.29 L153.00,40.53 L153.50,40.79 L154.00,41.06 L154.50,41.32 L155.00,41.56 L155.50,41.78 L156.00,41.96 L156.50,42.10 L157.00,42.20 L157.50,42.25 L158.00,42.24 L158.50,42.18 L159.00,42.08 L159.50,41.93 L160.00,41.74 L160.50,41.51 L161.00,41.27 L161.50,41.01 L162.00,40.74 L162.50,40.48 L163.00,40.24 L163.50,40.02 L164.00,39.84 L164.50,39.70 L165.00,39.60 L165.50,39.55"/>
<path d="M105.00,49.13 L105.50,49.39 L106.00,49.66 L106.50,49.92 L107.00,50.16 L107.50,50.38 L108.00,50.56 L108.50,50.70 L109.00,50.80 L109.50,50.85 L110.00,50.84 L110.50,50.78 L111.00,50.68 L111.50,50.53 L112.00,50.34 L112.50,50.11 L113.00,49.87 L113.50,49.61 L114.00,49.34 L114.50,49.08 L115.00,48.84 L115.50,48.62 L116.00,48.44 L116.50,48.30 L117.00,48.20 L117.50,48.15 L118.00,48.16 L118.50,48.22 L119.00,48.32 L119.50,48.47 L120.00,48.66 L120.50,48.89 L121.00,49.13 L121.50,49.39 L122.00,49.66 L122.50,49.92 L123.00,50.16 L123.50,50.38 L124.00,50.56 L124.50,50.70 L125.00,50.80 L125.50,50.85 L126.00,50.84 L126.50,50.78 L127.00,50.68 L127.50,50.53 L128.00,50.34 L128.50,50.11 L129.00,49.87 L129.50,49.61 L130.00,49.34 L130.50,49.08 L131.00,48.84 L131.50,48.62 L132.00,48.44 L132.50,48.30 L133.00,48.20 L133.50,48.15 L134.00,48.16 L134.50,48.22 L135.00,48.32 L135.50,48.47 L136.00,48.66 L136.50,48.89 L137.00,49.13 L137.50,49.39 L138.00,49.66 L138.50,49.92 L139.00,50.16 L139.50,50.38 L140.00,50.56 L140.50,50.70 L141.00,50.80 L141.50,50.85 L142.00,50.84 L142.50,50.78 L143.00,50.68 L143.50,50.53 L144.00,50.34 L144.50,50.11 L145.00,49.87 L145.50,49.61 L146.00,49.34 L146.50,49.08 L147.00,48.84 L147.50,48.62 L148.00,48.44 L148.50,48.30 L149.00,48.20 L149.50,48.15 L150.00,48.16 L150.50,48.22 L151.00,48.32 L151.50,48.47 L152.00,48.66 L152.50,48.89 L153.00,49.13 L153.50,49.39 L154.00,49.66 L154.50,49.92 L155.00,50.16 L155.50,50.38 L156.00,50.56 L156.50,50.70 L157.00,50.80 L157.50,50.85 L158.00,50.84 L158.50,50.78 L159.00,50.68 L159.50,50.53 L160.00,50.34 L160.50,50.11 L161.00,49.87 L161.50,49.61 L162.00,49.34 L162.50,49.08 L163.00,48.84 L163.50,48.62 L164.00,48.44 L164.50,48.30 L165.00,48.20 L165.50,48.15"/>
</g>
<g transform="translate(418.60,359.10) rotate(19.36)" fill="none" stroke="#7ab900" stroke-width="3.8" stroke-linecap="round">
<path d="M105.00,31.83 L105.50,32.09 L106.00,32.36 L106.50,32.62 L107.00,32.86 L107.50,33.08 L108.00,33.26 L108.50,33.40 L109.00,33.50 L109.50,33.55 L110.00,33.54 L110.50,33.48 L111.00,33.38 L111.50,33.23 L112.00,33.04 L112.50,32.81 L113.00,32.57 L113.50,32.31 L114.00,32.04 L114.50,31.78 L115.00,31.54 L115.50,31.32 L116.00,31.14 L116.50,31.00 L117.00,30.90 L117.50,30.85 L118.00,30.86 L118.50,30.92 L119.00,31.02 L119.50,31.17 L120.00,31.36 L120.50,31.59 L121.00,31.83 L121.50,32.09 L122.00,32.36 L122.50,32.62 L123.00,32.86 L123.50,33.08 L124.00,33.26 L124.50,33.40 L125.00,33.50 L125.50,33.55 L126.00,33.54 L126.50,33.48 L127.00,33.38 L127.50,33.23 L128.00,33.04 L128.50,32.81 L129.00,32.57 L129.50,32.31 L130.00,32.04 L130.50,31.78 L131.00,31.54 L131.50,31.32 L132.00,31.14 L132.50,31.00 L133.00,30.90 L133.50,30.85 L134.00,30.86 L134.50,30.92 L135.00,31.02 L135.50,31.17 L136.00,31.36 L136.50,31.59 L137.00,31.83 L137.50,32.09 L138.00,32.36 L138.50,32.62 L139.00,32.86 L139.50,33.08 L140.00,33.26 L140.50,33.40 L141.00,33.50 L141.50,33.55 L142.00,33.54 L142.50,33.48 L143.00,33.38 L143.50,33.23 L144.00,33.04 L144.50,32.81 L145.00,32.57 L145.50,32.31 L146.00,32.04 L146.50,31.78 L147.00,31.54 L147.50,31.32 L148.00,31.14 L148.50,31.00 L149.00,30.90 L149.50,30.85 L150.00,30.86 L150.50,30.92 L151.00,31.02 L151.50,31.17 L152.00,31.36 L152.50,31.59 L153.00,31.83 L153.50,32.09 L154.00,32.36 L154.50,32.62 L155.00,32.86 L155.50,33.08 L156.00,33.26 L156.50,33.40 L157.00,33.50 L157.50,33.55 L158.00,33.54 L158.50,33.48 L159.00,33.38 L159.50,33.23 L160.00,33.04 L160.50,32.81 L161.00,32.57 L161.50,32.31 L162.00,32.04 L162.50,31.78 L163.00,31.54 L163.50,31.32 L164.00,31.14 L164.50,31.00 L165.00,30.90 L165.50,30.85"/>
<path d="M105.00,40.53 L105.50,40.79 L106.00,41.06 L106.50,41.32 L107.00,41.56 L107.50,41.78 L108.00,41.96 L108.50,42.10 L109.00,42.20 L109.50,42.25 L110.00,42.24 L110.50,42.18 L111.00,42.08 L111.50,41.93 L112.00,41.74 L112.50,41.51 L113.00,41.27 L113.50,41.01 L114.00,40.74 L114.50,40.48 L115.00,40.24 L115.50,40.02 L116.00,39.84 L116.50,39.70 L117.00,39.60 L117.50,39.55 L118.00,39.56 L118.50,39.62 L119.00,39.72 L119.50,39.87 L120.00,40.06 L120.50,40.29 L121.00,40.53 L121.50,40.79 L122.00,41.06 L122.50,41.32 L123.00,41.56 L123.50,41.78 L124.00,41.96 L124.50,42.10 L125.00,42.20 L125.50,42.25 L126.00,42.24 L126.50,42.18 L127.00,42.08 L127.50,41.93 L128.00,41.74 L128.50,41.51 L129.00,41.27 L129.50,41.01 L130.00,40.74 L130.50,40.48 L131.00,40.24 L131.50,40.02 L132.00,39.84 L132.50,39.70 L133.00,39.60 L133.50,39.55 L134.00,39.56 L134.50,39.62 L135.00,39.72 L135.50,39.87 L136.00,40.06 L136.50,40.29 L137.00,40.53 L137.50,40.79 L138.00,41.06 L138.50,41.32 L139.00,41.56 L139.50,41.78 L140.00,41.96 L140.50,42.10 L141.00,42.20 L141.50,42.25 L142.00,42.24 L142.50,42.18 L143.00,42.08 L143.50,41.93 L144.00,41.74 L144.50,41.51 L145.00,41.27 L145.50,41.01 L146.00,40.74 L146.50,40.48 L147.00,40.24 L147.50,40.02 L148.00,39.84 L148.50,39.70 L149.00,39.60 L149.50,39.55 L150.00,39.56 L150.50,39.62 L151.00,39.72 L151.50,39.87 L152.00,40.06 L152.50,40.29 L153.00,40.53 L153.50,40.79 L154.00,41.06 L154.50,41.32 L155.00,41.56 L155.50,41.78 L156.00,41.96 L156.50,42.10 L157.00,42.20 L157.50,42.25 L158.00,42.24 L158.50,42.18 L159.00,42.08 L159.50,41.93 L160.00,41.74 L160.50,41.51 L161.00,41.27 L161.50,41.01 L162.00,40.74 L162.50,40.48 L163.00,40.24 L163.50,40.02 L164.00,39.84 L164.50,39.70 L165.00,39.60 L165.50,39.55"/>
<path d="M105.00,49.13 L105.50,49.39 L106.00,49.66 L106.50,49.92 L107.00,50.16 L107.50,50.38 L108.00,50.56 L108.50,50.70 L109.00,50.80 L109.50,50.85 L110.00,50.84 L110.50,50.78 L111.00,50.68 L111.50,50.53 L112.00,50.34 L112.50,50.11 L113.00,49.87 L113.50,49.61 L114.00,49.34 L114.50,49.08 L115.00,48.84 L115.50,48.62 L116.00,48.44 L116.50,48.30 L117.00,48.20 L117.50,48.15 L118.00,48.16 L118.50,48.22 L119.00,48.32 L119.50,48.47 L120.00,48.66 L120.50,48.89 L121.00,49.13 L121.50,49.39 L122.00,49.66 L122.50,49.92 L123.00,50.16 L123.50,50.38 L124.00,50.56 L124.50,50.70 L125.00,50.80 L125.50,50.85 L126.00,50.84 L126.50,50.78 L127.00,50.68 L127.50,50.53 L128.00,50.34 L128.50,50.11 L129.00,49.87 L129.50,49.61 L130.00,49.34 L130.50,49.08 L131.00,48.84 L131.50,48.62 L132.00,48.44 L132.50,48.30 L133.00,48.20 L133.50,48.15 L134.00,48.16 L134.50,48.22 L135.00,48.32 L135.50,48.47 L136.00,48.66 L136.50,48.89 L137.00,49.13 L137.50,49.39 L138.00,49.66 L138.50,49.92 L139.00,50.16 L139.50,50.38 L140.00,50.56 L140.50,50.70 L141.00,50.80 L141.50,50.85 L142.00,50.84 L142.50,50.78 L143.00,50.68 L143.50,50.53 L144.00,50.34 L144.50,50.11 L145.00,49.87 L145.50,49.61 L146.00,49.34 L146.50,49.08 L147.00,48.84 L147.50,48.62 L148.00,48.44 L148.50,48.30 L149.00,48.20 L149.50,48.15 L150.00,48.16 L150.50,48.22 L151.00,48.32 L151.50,48.47 L152.00,48.66 L152.50,48.89 L153.00,49.13 L153.50,49.39 L154.00,49.66 L154.50,49.92 L155.00,50.16 L155.50,50.38 L156.00,50.56 L156.50,50.70 L157.00,50.80 L157.50,50.85 L158.00,50.84 L158.50,50.78 L159.00,50.68 L159.50,50.53 L160.00,50.34 L160.50,50.11 L161.00,49.87 L161.50,49.61 L162.00,49.34 L162.50,49.08 L163.00,48.84 L163.50,48.62 L164.00,48.44 L164.50,48.30 L165.00,48.20 L165.50,48.15"/>
</g>
<line x1="210.3" y1="186.3" x2="210.3" y2="248" stroke="#000" stroke-width="2.2"/>
<line x1="178" y1="423.3" x2="178" y2="484.6" stroke="#000" stroke-width="2.2"/>
<path d="M318.34,149.43 A36.2,36.2 0 1 0 364.63,172.11 L374.21,168.91 L349.46,151.35 L340.26,180.27 L349.27,177.25 A20.0,20.0 0 1 1 323.69,164.72 Z" fill="#7ab900"/>
<path d="M320.45,462.46 A36.5,36.5 0 1 1 364.51,438.78 L373.81,441.89 L349.06,459.45 L339.86,430.53 L348.68,433.48 A19.8,19.8 0 1 0 324.78,446.33 Z" fill="#7ab900"/>
<g fill="#111"><circle cx="8.30" cy="303" r="1.15"/><circle cx="14.53" cy="303" r="1.15"/><circle cx="20.77" cy="303" r="1.15"/><circle cx="27.00" cy="303" r="1.15"/><circle cx="33.23" cy="303" r="1.15"/><circle cx="39.47" cy="303" r="1.15"/><circle cx="45.70" cy="303" r="1.15"/><circle cx="51.93" cy="303" r="1.15"/><circle cx="58.16" cy="303" r="1.15"/><circle cx="64.40" cy="303" r="1.15"/><circle cx="70.63" cy="303" r="1.15"/><circle cx="76.86" cy="303" r="1.15"/><circle cx="83.10" cy="303" r="1.15"/><circle cx="89.33" cy="303" r="1.15"/><circle cx="95.56" cy="303" r="1.15"/><circle cx="101.79" cy="303" r="1.15"/><circle cx="108.03" cy="303" r="1.15"/><circle cx="114.26" cy="303" r="1.15"/><circle cx="120.49" cy="303" r="1.15"/><circle cx="126.73" cy="303" r="1.15"/><circle cx="132.96" cy="303" r="1.15"/><circle cx="139.19" cy="303" r="1.15"/><circle cx="145.43" cy="303" r="1.15"/><circle cx="151.66" cy="303" r="1.15"/><circle cx="157.89" cy="303" r="1.15"/><circle cx="164.12" cy="303" r="1.15"/><circle cx="170.36" cy="303" r="1.15"/><circle cx="176.59" cy="303" r="1.15"/><circle cx="182.82" cy="303" r="1.15"/><circle cx="189.06" cy="303" r="1.15"/><circle cx="195.29" cy="303" r="1.15"/><circle cx="201.52" cy="303" r="1.15"/><circle cx="207.76" cy="303" r="1.15"/><circle cx="213.99" cy="303" r="1.15"/><circle cx="220.22" cy="303" r="1.15"/><circle cx="226.46" cy="303" r="1.15"/><circle cx="232.69" cy="303" r="1.15"/><circle cx="238.92" cy="303" r="1.15"/><circle cx="245.15" cy="303" r="1.15"/><circle cx="251.39" cy="303" r="1.15"/><circle cx="257.62" cy="303" r="1.15"/><circle cx="263.85" cy="303" r="1.15"/><circle cx="270.09" cy="303" r="1.15"/><circle cx="276.32" cy="303" r="1.15"/><circle cx="282.55" cy="303" r="1.15"/><circle cx="288.78" cy="303" r="1.15"/><circle cx="295.02" cy="303" r="1.15"/><circle cx="301.25" cy="303" r="1.15"/><circle cx="307.48" cy="303" r="1.15"/><circle cx="313.72" cy="303" r="1.15"/><circle cx="319.95" cy="303" r="1.15"/><circle cx="326.18" cy="303" r="1.15"/><circle cx="332.42" cy="303" r="1.15"/><circle cx="338.65" cy="303" r="1.15"/><circle cx="344.88" cy="303" r="1.15"/><circle cx="351.12" cy="303" r="1.15"/><circle cx="357.35" cy="303" r="1.15"/><circle cx="363.58" cy="303" r="1.15"/><circle cx="369.81" cy="303" r="1.15"/><circle cx="376.05" cy="303" r="1.15"/><circle cx="382.28" cy="303" r="1.15"/><circle cx="388.51" cy="303" r="1.15"/><circle cx="394.75" cy="303" r="1.15"/><circle cx="400.98" cy="303" r="1.15"/><circle cx="407.21" cy="303" r="1.15"/><circle cx="413.44" cy="303" r="1.15"/><circle cx="419.68" cy="303" r="1.15"/><circle cx="425.91" cy="303" r="1.15"/><circle cx="432.14" cy="303" r="1.15"/><circle cx="438.38" cy="303" r="1.15"/><circle cx="444.61" cy="303" r="1.15"/><circle cx="450.84" cy="303" r="1.15"/><circle cx="457.08" cy="303" r="1.15"/><circle cx="463.31" cy="303" r="1.15"/><circle cx="469.54" cy="303" r="1.15"/><circle cx="475.77" cy="303" r="1.15"/><circle cx="482.01" cy="303" r="1.15"/><circle cx="488.24" cy="303" r="1.15"/><circle cx="494.47" cy="303" r="1.15"/><circle cx="500.71" cy="303" r="1.15"/><circle cx="506.94" cy="303" r="1.15"/><circle cx="513.17" cy="303" r="1.15"/><circle cx="519.41" cy="303" r="1.15"/><circle cx="525.64" cy="303" r="1.15"/><circle cx="531.87" cy="303" r="1.15"/><circle cx="538.10" cy="303" r="1.15"/><circle cx="544.34" cy="303" r="1.15"/><circle cx="550.57" cy="303" r="1.15"/><circle cx="556.80" cy="303" r="1.15"/><circle cx="563.04" cy="303" r="1.15"/><circle cx="569.27" cy="303" r="1.15"/><circle cx="575.50" cy="303" r="1.15"/><circle cx="581.74" cy="303" r="1.15"/><circle cx="587.97" cy="303" r="1.15"/><circle cx="594.20" cy="303" r="1.15"/><circle cx="600.43" cy="303" r="1.15"/><circle cx="606.67" cy="303" r="1.15"/><circle cx="612.90" cy="303" r="1.15"/><circle cx="619.13" cy="303" r="1.15"/><circle cx="625.37" cy="303" r="1.15"/><circle cx="631.60" cy="303" r="1.15"/><circle cx="637.83" cy="303" r="1.15"/></g>
<circle cx="644" cy="303" r="1" fill="#bbb"/>
<g font-weight="bold" font-size="24" fill="#000" stroke="#000" stroke-width="0.5">
<text x="77.5" y="106" textLength="107.5" lengthAdjust="spacingAndGlyphs">right blur</text>
<text x="453.5" y="105.6" textLength="131" lengthAdjust="spacingAndGlyphs">raise beam</text>
<text x="84.5" y="338" textLength="90" lengthAdjust="spacingAndGlyphs">left blur</text>
<text x="449" y="337.2" textLength="138.5" lengthAdjust="spacingAndGlyphs">lower beam</text>
</g>
<g font-weight="bold" font-size="27.5" fill="#000" stroke="#000" stroke-width="0.6">
<text x="14.5" y="290.5">a</text>
<text x="14.5" y="505.2">b</text>
</g>
<g font-size="18.8" fill="#000">
<text x="216.5" y="247.7">blur</text>
<text x="141" y="484.2">blur</text>
</g>
<defs>
<filter id="bB" x="-20%" y="-20%" width="140%" height="140%"><feGaussianBlur stdDeviation="5"/></filter>
<filter id="bM" x="-20%" y="-20%" width="140%" height="140%"><feGaussianBlur stdDeviation="2"/></filter>
<filter id="bS" x="-20%" y="-20%" width="140%" height="140%"><feGaussianBlur stdDeviation="1"/></filter>
<filter id="bT" x="-20%" y="-20%" width="140%" height="140%"><feGaussianBlur stdDeviation="0.75"/></filter>
<filter id="nz" x="0" y="0" width="100%" height="100%" color-interpolation-filters="sRGB"><feTurbulence type="fractalNoise" baseFrequency="0.09" numOctaves="2" seed="7"/><feColorMatrix type="matrix" values="0 0 0 0 0  0 0 0 0 0  0 0 0 0 0  1.6 0 0 0 -0.55"/></filter>
<filter id="nz2" x="0" y="0" width="100%" height="100%" color-interpolation-filters="sRGB"><feTurbulence type="fractalNoise" baseFrequency="0.09" numOctaves="2" seed="11"/><feColorMatrix type="matrix" values="0 0 0 0 1  0 0 0 0 1  0 0 0 0 1  1.6 0 0 0 -0.55"/></filter>
<linearGradient id="hg" gradientUnits="userSpaceOnUse" x1="720" y1="0" x2="790" y2="0"><stop offset="0" stop-color="#777"/><stop offset="1" stop-color="#fff"/></linearGradient>
<mask id="mkh" maskUnits="userSpaceOnUse" x="690" y="0" width="320" height="600"><rect x="690" y="0" width="320" height="600" fill="url(#hg)"/></mask>
<linearGradient id="botv" x1="0" y1="0" x2="0" y2="1">
<stop offset="0" stop-color="#000" stop-opacity="0"/><stop offset="1" stop-color="#000" stop-opacity="0.7"/></linearGradient>
</defs><clipPath id="clipc"><rect x="704.0" y="92.5" width="291.5" height="204.0"/></clipPath>
<g clip-path="url(#clipc)">
<rect x="704.0" y="92.5" width="291.5" height="204.0" fill="#969696"/>
<g filter="url(#bB)">
<path d="M690.0,80.0 L762.0,80.0 L764.0,160.0 L750.0,205.0 L690.0,212.0 Z" fill="#c6c6c6"/>
<path d="M744.0,180.0 L766.0,168.0 L770.0,245.0 L758.0,262.0 L748.0,250.0 Z" fill="#6a6a6a"/>
<path d="M788.0,80.0 L880.0,80.0 L893.0,190.0 L806.0,172.0 Z" fill="#aaaaaa"/>
<path d="M908.0,80.0 L966.0,80.0 L958.0,200.0 L938.0,200.0 Z" fill="#828282"/>
<path d="M962.0,80.0 L1010.0,80.0 L1010.0,240.0 L966.0,240.0 Z" fill="#8c8c8c"/>
<path d="M975.0,80.0 L1010.0,80.0 L1010.0,130.0 L975.0,120.0 Z" fill="#767676"/>
<path d="M690.0,250.0 L758.0,250.0 L758.0,310.0 L690.0,310.0 Z" fill="#8c8c8c"/>
<path d="M758.0,236.0 L770.0,236.0 L780.0,262.0 L795.0,285.0 L800.0,300.0 L756.0,300.0 Z" fill="#a2a2a2"/>
<path d="M770.0,262.0 L880.0,262.0 L880.0,310.0 L770.0,310.0 Z" fill="#848484"/>
<path d="M888.0,262.0 L958.0,262.0 L958.0,310.0 L888.0,310.0 Z" fill="#6c6c6c"/>
<path d="M880.0,262.0 L888.0,262.0 L888.0,310.0 L880.0,310.0 Z" fill="#555555"/>
</g>
<g filter="url(#bM)">
<path d="M803.0,170.0 L817.5,172.8 L829.0,178.7 L846.7,183.3 L864.0,186.8 L881.7,189.2 L896.0,190.0 L897.0,209.0 L894.5,216.0 L887.5,220.7 L875.8,222.4 L864.0,220.7 L846.7,216.0 L823.3,209.0 L815.0,204.3 L810.5,198.5 Z" fill="#626262"/>
<path d="M936.0,192.0 L952.0,195.0 L968.0,225.0 L983.0,250.0 L984.0,300.0 L950.0,300.0 L950.0,240.0 Z" fill="#303030"/>
</g>
<rect x="704.0" y="276" width="291.5" height="21" fill="url(#botv)" mask="url(#mkh)"/>
<rect x="704.0" y="92.5" width="291.5" height="204.0" filter="url(#nz)" opacity="0.12"/>
<rect x="704.0" y="92.5" width="291.5" height="204.0" filter="url(#nz2)" opacity="0.12"/>
<g filter="url(#bS)">
</g><g filter="url(#bT)">
<path d="M756.5,86.5 L791.7,86.5 L806.0,200.0 L769.0,200.0 Z" fill="#dcdcdc"/><path d="M757.8,92.5 L755.6,93.7 L757.8,94.7 Z" fill="#dcdcdc"/><path d="M791.9,92.5 L794.1,93.7 L791.9,94.7 Z" fill="#dcdcdc"/><path d="M758.2,96.1 L756.0,97.3 L758.2,98.3 Z" fill="#dcdcdc"/><path d="M792.3,96.1 L794.5,97.3 L792.3,98.3 Z" fill="#dcdcdc"/><path d="M758.6,99.7 L756.4,100.9 L758.6,101.9 Z" fill="#dcdcdc"/><path d="M792.8,99.7 L795.0,100.9 L792.8,101.9 Z" fill="#dcdcdc"/><path d="M759.0,103.3 L756.8,104.5 L759.0,105.5 Z" fill="#dcdcdc"/><path d="M793.2,103.3 L795.4,104.5 L793.2,105.5 Z" fill="#dcdcdc"/><path d="M759.3,106.9 L757.1,108.1 L759.3,109.1 Z" fill="#dcdcdc"/><path d="M793.7,106.9 L795.9,108.1 L793.7,109.1 Z" fill="#dcdcdc"/><path d="M759.7,110.5 L757.5,111.7 L759.7,112.7 Z" fill="#dcdcdc"/><path d="M794.1,110.5 L796.3,111.7 L794.1,112.7 Z" fill="#dcdcdc"/><path d="M760.1,114.1 L757.9,115.3 L760.1,116.3 Z" fill="#dcdcdc"/><path d="M794.6,114.1 L796.8,115.3 L794.6,116.3 Z" fill="#dcdcdc"/><path d="M760.5,117.7 L758.3,118.9 L760.5,119.9 Z" fill="#dcdcdc"/><path d="M795.0,117.7 L797.2,118.9 L795.0,119.9 Z" fill="#dcdcdc"/><path d="M760.9,121.3 L758.7,122.5 L760.9,123.5 Z" fill="#dcdcdc"/><path d="M795.5,121.3 L797.7,122.5 L795.5,123.5 Z" fill="#dcdcdc"/><path d="M761.3,124.9 L759.1,126.1 L761.3,127.1 Z" fill="#dcdcdc"/><path d="M795.9,124.9 L798.1,126.1 L795.9,127.1 Z" fill="#dcdcdc"/><path d="M761.7,128.5 L759.5,129.7 L761.7,130.7 Z" fill="#dcdcdc"/><path d="M796.4,128.5 L798.6,129.7 L796.4,130.7 Z" fill="#dcdcdc"/><path d="M762.1,132.1 L759.9,133.3 L762.1,134.3 Z" fill="#dcdcdc"/><path d="M796.8,132.1 L799.0,133.3 L796.8,134.3 Z" fill="#dcdcdc"/><path d="M762.5,135.7 L760.3,136.9 L762.5,137.9 Z" fill="#dcdcdc"/><path d="M797.3,135.7 L799.5,136.9 L797.3,137.9 Z" fill="#dcdcdc"/><path d="M762.9,139.3 L760.7,140.5 L762.9,141.5 Z" fill="#dcdcdc"/><path d="M797.8,139.3 L800.0,140.5 L797.8,141.5 Z" fill="#dcdcdc"/><path d="M763.3,142.9 L761.1,144.1 L763.3,145.1 Z" fill="#dcdcdc"/><path d="M798.2,142.9 L800.4,144.1 L798.2,145.1 Z" fill="#dcdcdc"/><path d="M763.7,146.5 L761.5,147.7 L763.7,148.7 Z" fill="#dcdcdc"/><path d="M798.7,146.5 L800.9,147.7 L798.7,148.7 Z" fill="#dcdcdc"/><path d="M764.1,150.1 L761.9,151.3 L764.1,152.3 Z" fill="#dcdcdc"/><path d="M799.1,150.1 L801.3,151.3 L799.1,152.3 Z" fill="#dcdcdc"/><path d="M764.5,153.7 L762.3,154.9 L764.5,155.9 Z" fill="#dcdcdc"/><path d="M799.6,153.7 L801.8,154.9 L799.6,155.9 Z" fill="#dcdcdc"/><path d="M764.6,160.0 L801.0,160.0 L806.0,200.0 L769.0,200.0 Z" fill="#e8e8e8"/>
<path d="M877.6,86.5 L910.6,86.5 L940.0,205.0 L897.0,205.0 Z" fill="#dadada"/><path d="M879.2,92.5 L877.0,93.7 L879.2,94.7 Z" fill="#dadada"/><path d="M911.5,92.5 L913.7,93.7 L911.5,94.7 Z" fill="#dadada"/><path d="M879.8,96.1 L877.6,97.3 L879.8,98.3 Z" fill="#dadada"/><path d="M912.4,96.1 L914.6,97.3 L912.4,98.3 Z" fill="#dadada"/><path d="M880.4,99.7 L878.2,100.9 L880.4,101.9 Z" fill="#dadada"/><path d="M913.3,99.7 L915.5,100.9 L913.3,101.9 Z" fill="#dadada"/><path d="M881.0,103.3 L878.8,104.5 L881.0,105.5 Z" fill="#dadada"/><path d="M914.2,103.3 L916.4,104.5 L914.2,105.5 Z" fill="#dadada"/><path d="M881.5,106.9 L879.3,108.1 L881.5,109.1 Z" fill="#dadada"/><path d="M915.1,106.9 L917.3,108.1 L915.1,109.1 Z" fill="#dadada"/><path d="M882.1,110.5 L879.9,111.7 L882.1,112.7 Z" fill="#dadada"/><path d="M916.0,110.5 L918.2,111.7 L916.0,112.7 Z" fill="#dadada"/><path d="M882.7,114.1 L880.5,115.3 L882.7,116.3 Z" fill="#dadada"/><path d="M916.8,114.1 L919.0,115.3 L916.8,116.3 Z" fill="#dadada"/><path d="M883.3,117.7 L881.1,118.9 L883.3,119.9 Z" fill="#dadada"/><path d="M917.7,117.7 L919.9,118.9 L917.7,119.9 Z" fill="#dadada"/><path d="M883.9,121.3 L881.7,122.5 L883.9,123.5 Z" fill="#dadada"/><path d="M918.6,121.3 L920.8,122.5 L918.6,123.5 Z" fill="#dadada"/><path d="M884.5,124.9 L882.3,126.1 L884.5,127.1 Z" fill="#dadada"/><path d="M919.5,124.9 L921.7,126.1 L919.5,127.1 Z" fill="#dadada"/><path d="M885.1,128.5 L882.9,129.7 L885.1,130.7 Z" fill="#dadada"/><path d="M920.4,128.5 L922.6,129.7 L920.4,130.7 Z" fill="#dadada"/><path d="M885.7,132.1 L883.5,133.3 L885.7,134.3 Z" fill="#dadada"/><path d="M921.3,132.1 L923.5,133.3 L921.3,134.3 Z" fill="#dadada"/><path d="M886.3,135.7 L884.1,136.9 L886.3,137.9 Z" fill="#dadada"/><path d="M922.2,135.7 L924.4,136.9 L922.2,137.9 Z" fill="#dadada"/><path d="M886.8,139.3 L884.6,140.5 L886.8,141.5 Z" fill="#dadada"/><path d="M923.1,139.3 L925.3,140.5 L923.1,141.5 Z" fill="#dadada"/><path d="M887.4,142.9 L885.2,144.1 L887.4,145.1 Z" fill="#dadada"/><path d="M924.0,142.9 L926.2,144.1 L924.0,145.1 Z" fill="#dadada"/><path d="M888.0,146.5 L885.8,147.7 L888.0,148.7 Z" fill="#dadada"/><path d="M924.9,146.5 L927.1,147.7 L924.9,148.7 Z" fill="#dadada"/><path d="M888.6,150.1 L886.4,151.3 L888.6,152.3 Z" fill="#dadada"/><path d="M925.8,150.1 L928.0,151.3 L925.8,152.3 Z" fill="#dadada"/><path d="M889.2,153.7 L887.0,154.9 L889.2,155.9 Z" fill="#dadada"/><path d="M926.7,153.7 L928.9,154.9 L926.7,155.9 Z" fill="#dadada"/><path d="M889.8,157.3 L887.6,158.5 L889.8,159.5 Z" fill="#dadada"/><path d="M927.6,157.3 L929.8,158.5 L927.6,159.5 Z" fill="#dadada"/><path d="M890.4,160.9 L888.2,162.1 L890.4,163.1 Z" fill="#dadada"/><path d="M928.5,160.9 L930.7,162.1 L928.5,163.1 Z" fill="#dadada"/><path d="M890.5,165.0 L930.1,165.0 L940.0,205.0 L897.0,205.0 Z" fill="#e6e6e6"/>
</g><g filter="url(#bS)">
<path d="M768.0,192.0 C768.0,193.1 768.4,194.2 768.3,198.3 C768.2,202.4 767.1,210.0 767.4,216.7 C767.7,223.4 768.5,232.0 770.2,238.7 C771.9,245.4 774.5,251.6 777.5,257.0 C780.5,262.4 783.2,267.5 788.0,271.0 C792.8,274.5 799.0,276.5 806.0,277.8 C813.0,279.1 822.3,279.1 830.0,279.0 C837.7,278.9 846.0,278.0 852.0,277.0 C858.0,276.0 862.0,274.6 866.0,273.0 C870.0,271.4 873.3,269.2 876.0,267.5 C878.7,265.8 880.3,265.9 882.0,263.0 C883.7,260.1 885.3,256.5 886.0,250.0 C886.7,243.5 887.9,228.5 886.0,224.0 C884.1,219.5 880.2,224.0 874.7,223.1 C869.2,222.2 859.4,220.0 852.7,218.5 C846.0,217.0 839.9,215.7 834.4,213.9 C828.9,212.1 823.7,210.1 819.7,207.5 C815.7,204.9 812.8,200.9 810.5,198.3 C808.2,195.7 806.8,193.1 806.0,192.0 Z" fill="#f1f1f1"/>
<path d="M896.0,192.0 C896.0,193.3 896.2,196.3 896.0,200.0 C895.8,203.7 896.3,210.5 895.0,214.0 C893.7,217.5 890.8,219.5 888.0,221.0 C885.2,222.5 879.3,219.0 878.0,223.0 C876.7,227.0 878.8,238.5 880.0,245.0 C881.2,251.5 883.0,258.3 885.0,262.0 C887.0,265.7 889.2,265.2 892.0,267.0 C894.8,268.8 898.3,271.3 902.0,273.0 C905.7,274.7 909.3,275.8 914.0,277.0 C918.7,278.2 924.7,279.8 930.0,280.0 C935.3,280.2 941.7,279.3 946.0,278.0 C950.3,276.7 953.3,275.0 956.0,272.0 C958.7,269.0 960.8,264.7 962.0,260.0 C963.2,255.3 963.7,249.3 963.0,244.0 C962.3,238.7 960.2,233.0 958.0,228.0 C955.8,223.0 952.8,219.0 950.0,214.0 C947.2,209.0 942.8,201.7 941.0,198.0 C939.2,194.3 939.3,193.0 939.0,192.0 Z" fill="#f1f1f1"/>
<path d="M700.0,210.0 C702.0,209.9 707.7,209.2 712.0,209.5 C716.3,209.8 721.3,210.1 726.0,212.0 C730.7,213.9 736.0,217.5 740.0,221.0 C744.0,224.5 747.7,228.7 750.0,233.0 C752.3,237.3 753.2,241.5 754.0,247.0 C754.8,252.5 755.0,261.2 754.5,266.0 C754.0,270.8 752.8,273.6 751.0,276.0 C749.2,278.4 752.5,279.8 744.0,280.5 C735.5,281.2 707.3,280.5 700.0,280.5 Z" fill="#fafafa"/>
<ellipse cx="991" cy="267" rx="11" ry="19" fill="#cdcdcd"/>
<path d="M772.9,160.0 L776.1,160.0 L780.2,194.0 L777.0,194.0 Z" fill="#b4b4b4"/><path d="M788.9,160.0 L792.1,160.0 L796.5,194.0 L793.3,194.0 Z" fill="#b4b4b4"/>
<path d="M899.5,165.0 L902.7,165.0 L909.5,199.0 L906.3,199.0 Z" fill="#b4b4b4"/><path d="M916.9,165.0 L920.1,165.0 L928.1,199.0 L924.9,199.0 Z" fill="#b4b4b4"/>
<ellipse cx="901" cy="126" rx="6" ry="4" fill="#bebebe" opacity="0.6"/><ellipse cx="776" cy="120" rx="6" ry="4" fill="#bebebe" opacity="0.6"/>
</g>
<g filter="url(#bB)" opacity="0.6"><ellipse cx="800" cy="240" rx="18" ry="14" fill="#dedede"/><ellipse cx="925" cy="240" rx="12" ry="10" fill="#dedede"/></g>
</g><clipPath id="clipd"><path d="M704,308 L995.5,308 L995.5,502 L950,511 L704,511 Z"/></clipPath>
<g clip-path="url(#clipd)">
<rect x="704.0" y="308.0" width="291.5" height="203.0" fill="#8c8c8c"/>
<g filter="url(#bB)">
<path d="M690.0,295.0 L752.0,295.0 L752.0,400.0 L690.0,430.0 Z" fill="#c0c0c0"/>
<path d="M690.0,398.0 L742.0,398.0 L742.0,449.0 L690.0,449.0 Z" fill="#a5a5a5"/>
<path d="M738.0,370.0 L760.0,362.0 L764.0,445.0 L756.0,455.0 L744.0,448.0 Z" fill="#646464"/>
<path d="M785.0,295.0 L875.0,295.0 L889.0,390.0 L860.8,384.7 L841.3,382.5 L824.0,375.0 L806.6,366.3 L793.7,357.6 Z" fill="#a8a8a8"/>
<path d="M906.0,295.0 L962.0,295.0 L960.0,390.0 L935.0,400.0 Z" fill="#747474"/>
<path d="M960.0,295.0 L1010.0,295.0 L1010.0,460.0 L962.0,460.0 Z" fill="#7e7e7e"/>
<path d="M690.0,440.0 L758.0,440.0 L758.0,520.0 L690.0,520.0 Z" fill="#787878"/>
<path d="M753.0,452.0 L768.0,440.0 L790.0,470.0 L800.0,515.0 L752.0,515.0 Z" fill="#949494"/>
<path d="M768.0,470.0 L880.0,470.0 L880.0,520.0 L768.0,520.0 Z" fill="#646464"/>
<path d="M888.0,470.0 L955.0,470.0 L955.0,520.0 L888.0,520.0 Z" fill="#444444"/>
<path d="M879.0,470.0 L889.0,470.0 L889.0,520.0 L879.0,520.0 Z" fill="#2d2d2d"/>
</g>
<g filter="url(#bM)">
<path d="M793.7,357.6 L806.6,366.3 L824.0,375.0 L841.3,382.5 L828.0,411.7 L806.6,411.7 L798.0,395.0 Z" fill="#4a4a4a"/>
<path d="M841.3,382.5 L860.8,384.7 L880.2,388.0 L892.0,390.0 L893.0,425.0 L886.7,436.0 L871.6,435.5 L850.0,427.0 L828.0,418.0 L828.0,411.7 Z" fill="#1c1c1c"/>
<path d="M930.0,385.0 L948.0,390.0 L968.0,428.0 L979.0,458.0 L983.0,500.0 L983.0,515.0 L940.0,515.0 L950.0,485.0 Z" fill="#181818"/>
<path d="M804.0,404.0 L828.0,409.0 L850.0,417.0 L868.0,424.0 L868.0,433.0 L850.0,426.0 L828.0,417.0 L806.0,413.0 Z" fill="#828282"/>
</g>
<rect x="704.0" y="488" width="291.5" height="24" fill="url(#botv)" mask="url(#mkh)"/>
<rect x="704.0" y="308.0" width="291.5" height="203.0" filter="url(#nz)" opacity="0.12"/>
<rect x="704.0" y="308.0" width="291.5" height="203.0" filter="url(#nz2)" opacity="0.12"/>
<g filter="url(#bS)">
</g><g filter="url(#bT)">
<path d="M749.5,302.0 L784.4,302.0 L806.4,411.0 L761.4,411.0 Z" fill="#dcdcdc"/><path d="M750.8,308.0 L748.6,309.2 L750.8,310.2 Z" fill="#dcdcdc"/><path d="M785.0,308.0 L787.2,309.2 L785.0,310.2 Z" fill="#dcdcdc"/><path d="M751.1,311.6 L748.9,312.8 L751.1,313.8 Z" fill="#dcdcdc"/><path d="M785.7,311.6 L787.9,312.8 L785.7,313.8 Z" fill="#dcdcdc"/><path d="M751.5,315.2 L749.3,316.4 L751.5,317.4 Z" fill="#dcdcdc"/><path d="M786.5,315.2 L788.7,316.4 L786.5,317.4 Z" fill="#dcdcdc"/><path d="M751.9,318.8 L749.7,320.0 L751.9,321.0 Z" fill="#dcdcdc"/><path d="M787.2,318.8 L789.4,320.0 L787.2,321.0 Z" fill="#dcdcdc"/><path d="M752.3,322.4 L750.1,323.6 L752.3,324.6 Z" fill="#dcdcdc"/><path d="M787.9,322.4 L790.1,323.6 L787.9,324.6 Z" fill="#dcdcdc"/><path d="M752.7,326.0 L750.5,327.2 L752.7,328.2 Z" fill="#dcdcdc"/><path d="M788.6,326.0 L790.8,327.2 L788.6,328.2 Z" fill="#dcdcdc"/><path d="M753.1,329.6 L750.9,330.8 L753.1,331.8 Z" fill="#dcdcdc"/><path d="M789.4,329.6 L791.6,330.8 L789.4,331.8 Z" fill="#dcdcdc"/><path d="M753.5,333.2 L751.3,334.4 L753.5,335.4 Z" fill="#dcdcdc"/><path d="M790.1,333.2 L792.3,334.4 L790.1,335.4 Z" fill="#dcdcdc"/><path d="M753.9,336.8 L751.7,338.0 L753.9,339.0 Z" fill="#dcdcdc"/><path d="M790.8,336.8 L793.0,338.0 L790.8,339.0 Z" fill="#dcdcdc"/><path d="M754.3,340.4 L752.1,341.6 L754.3,342.6 Z" fill="#dcdcdc"/><path d="M791.6,340.4 L793.8,341.6 L791.6,342.6 Z" fill="#dcdcdc"/><path d="M754.7,344.0 L752.5,345.2 L754.7,346.2 Z" fill="#dcdcdc"/><path d="M792.3,344.0 L794.5,345.2 L792.3,346.2 Z" fill="#dcdcdc"/><path d="M755.1,347.6 L752.9,348.8 L755.1,349.8 Z" fill="#dcdcdc"/><path d="M793.0,347.6 L795.2,348.8 L793.0,349.8 Z" fill="#dcdcdc"/><path d="M755.5,351.2 L753.3,352.4 L755.5,353.4 Z" fill="#dcdcdc"/><path d="M793.7,351.2 L795.9,352.4 L793.7,353.4 Z" fill="#dcdcdc"/><path d="M755.9,354.8 L753.7,356.0 L755.9,357.0 Z" fill="#dcdcdc"/><path d="M794.5,354.8 L796.7,356.0 L794.5,357.0 Z" fill="#dcdcdc"/><path d="M756.3,358.4 L754.1,359.6 L756.3,360.6 Z" fill="#dcdcdc"/><path d="M795.2,358.4 L797.4,359.6 L795.2,360.6 Z" fill="#dcdcdc"/><path d="M756.2,363.0 L796.7,363.0 L806.4,411.0 L761.4,411.0 Z" fill="#e8e8e8"/>
<path d="M872.0,302.0 L908.7,302.0 L935.3,411.0 L892.2,411.0 Z" fill="#dadada"/><path d="M873.7,308.0 L871.5,309.2 L873.7,310.2 Z" fill="#dadada"/><path d="M909.6,308.0 L911.8,309.2 L909.6,310.2 Z" fill="#dadada"/><path d="M874.4,311.6 L872.2,312.8 L874.4,313.8 Z" fill="#dadada"/><path d="M910.4,311.6 L912.6,312.8 L910.4,313.8 Z" fill="#dadada"/><path d="M875.0,315.2 L872.8,316.4 L875.0,317.4 Z" fill="#dadada"/><path d="M911.3,315.2 L913.5,316.4 L911.3,317.4 Z" fill="#dadada"/><path d="M875.7,318.8 L873.5,320.0 L875.7,321.0 Z" fill="#dadada"/><path d="M912.2,318.8 L914.4,320.0 L912.2,321.0 Z" fill="#dadada"/><path d="M876.4,322.4 L874.2,323.6 L876.4,324.6 Z" fill="#dadada"/><path d="M913.1,322.4 L915.3,323.6 L913.1,324.6 Z" fill="#dadada"/><path d="M877.0,326.0 L874.8,327.2 L877.0,328.2 Z" fill="#dadada"/><path d="M914.0,326.0 L916.2,327.2 L914.0,328.2 Z" fill="#dadada"/><path d="M877.7,329.6 L875.5,330.8 L877.7,331.8 Z" fill="#dadada"/><path d="M914.8,329.6 L917.0,330.8 L914.8,331.8 Z" fill="#dadada"/><path d="M878.4,333.2 L876.2,334.4 L878.4,335.4 Z" fill="#dadada"/><path d="M915.7,333.2 L917.9,334.4 L915.7,335.4 Z" fill="#dadada"/><path d="M879.0,336.8 L876.8,338.0 L879.0,339.0 Z" fill="#dadada"/><path d="M916.6,336.8 L918.8,338.0 L916.6,339.0 Z" fill="#dadada"/><path d="M879.7,340.4 L877.5,341.6 L879.7,342.6 Z" fill="#dadada"/><path d="M917.5,340.4 L919.7,341.6 L917.5,342.6 Z" fill="#dadada"/><path d="M880.4,344.0 L878.2,345.2 L880.4,346.2 Z" fill="#dadada"/><path d="M918.3,344.0 L920.5,345.2 L918.3,346.2 Z" fill="#dadada"/><path d="M881.1,347.6 L878.9,348.8 L881.1,349.8 Z" fill="#dadada"/><path d="M919.2,347.6 L921.4,348.8 L919.2,349.8 Z" fill="#dadada"/><path d="M881.7,351.2 L879.5,352.4 L881.7,353.4 Z" fill="#dadada"/><path d="M920.1,351.2 L922.3,352.4 L920.1,353.4 Z" fill="#dadada"/><path d="M882.4,354.8 L880.2,356.0 L882.4,357.0 Z" fill="#dadada"/><path d="M921.0,354.8 L923.2,356.0 L921.0,357.0 Z" fill="#dadada"/><path d="M883.1,358.4 L880.9,359.6 L883.1,360.6 Z" fill="#dadada"/><path d="M921.9,358.4 L924.1,359.6 L921.9,360.6 Z" fill="#dadada"/><path d="M883.7,365.0 L924.1,365.0 L935.3,411.0 L892.2,411.0 Z" fill="#e6e6e6"/>
</g><g filter="url(#bS)">
<path d="M763.5,405.0 C763.8,406.7 764.8,409.6 765.0,415.0 C765.2,420.4 764.2,430.0 765.0,437.5 C765.8,445.0 767.9,453.8 770.0,460.0 C772.1,466.2 774.6,471.2 777.5,475.0 C780.4,478.8 782.9,480.7 787.5,482.5 C792.1,484.3 796.7,485.4 805.0,486.0 C813.3,486.6 827.9,486.8 837.5,486.0 C847.1,485.2 856.2,482.7 862.5,481.0 C868.8,479.3 871.7,477.0 875.0,476.0 C878.3,475.0 880.8,477.7 882.5,475.0 C884.2,472.3 885.1,466.3 885.0,460.0 C884.9,453.7 884.1,441.0 882.0,437.0 C879.9,433.0 876.6,437.0 872.5,436.0 C868.4,435.0 863.3,432.4 857.5,431.0 C851.7,429.6 843.8,428.9 837.5,427.5 C831.2,426.1 825.0,424.6 820.0,422.5 C815.0,420.4 810.1,417.9 807.5,415.0 C804.9,412.1 805.0,406.7 804.5,405.0 Z" fill="#f1f1f1"/>
<path d="M891.5,402.0 C891.6,404.2 892.4,410.2 892.0,415.0 C891.6,419.8 890.7,427.5 889.0,431.0 C887.3,434.5 884.2,435.0 882.0,436.0 C879.8,437.0 877.3,433.8 876.0,437.0 C874.7,440.2 873.7,448.7 874.0,455.0 C874.3,461.3 876.0,471.3 878.0,475.0 C880.0,478.7 882.3,475.7 886.0,477.0 C889.7,478.3 895.0,481.2 900.0,483.0 C905.0,484.8 910.0,487.7 916.0,488.0 C922.0,488.3 930.7,486.5 936.0,485.0 C941.3,483.5 944.7,481.3 948.0,479.0 C951.3,476.7 954.2,474.3 956.0,471.0 C957.8,467.7 959.0,463.7 959.0,459.0 C959.0,454.3 957.8,448.7 956.0,443.0 C954.2,437.3 951.0,431.0 948.0,425.0 C945.0,419.0 940.2,410.8 938.0,407.0 C935.8,403.2 935.1,402.8 934.5,402.0 Z" fill="#f1f1f1"/>
<path d="M711.0,449.0 C706.6,447.3 712.8,442.1 715.0,439.0 C717.2,435.9 720.5,432.1 724.0,430.5 C727.5,428.9 733.2,428.4 736.0,429.5 C738.8,430.6 740.1,433.8 741.0,437.0 C741.9,440.2 746.5,447.0 741.5,449.0 C736.5,451.0 715.4,450.7 711.0,449.0Z" fill="#b6b6b6"/>
<path d="M700.0,448.0 L745.0,448.0 L750.0,452.0 L751.5,462.0 L751.5,488.0 L748.0,495.0 L740.0,497.0 L700.0,497.0 Z" fill="#fafafa"/>
<ellipse cx="990" cy="473" rx="12" ry="19" fill="#d0d0d0"/>
<path d="M765.5,363.0 L768.7,363.0 L774.7,405.0 L771.5,405.0 Z" fill="#acacac"/><path d="M783.3,363.0 L786.5,363.0 L794.3,405.0 L791.1,405.0 Z" fill="#acacac"/>
<path d="M892.8,365.0 L896.0,365.0 L904.8,406.0 L901.6,406.0 Z" fill="#acacac"/><path d="M910.6,365.0 L913.8,365.0 L923.6,406.0 L920.4,406.0 Z" fill="#acacac"/>
<ellipse cx="893" cy="326" rx="6" ry="5" fill="#b4b4b4" opacity="0.6"/><ellipse cx="769" cy="324" rx="6" ry="4" fill="#bebebe" opacity="0.5"/>
</g>
<g filter="url(#bB)" opacity="0.6"><ellipse cx="800" cy="450" rx="18" ry="14" fill="#dedede"/><ellipse cx="925" cy="450" rx="12" ry="10" fill="#dedede"/></g>
</g><g font-weight="bold" font-size="27.5" fill="#000" stroke="#fff" stroke-opacity="0.35" stroke-width="1.6" paint-order="stroke"><text x="711" y="290.8">c</text><text x="711" y="505.5">d</text></g><g font-weight="bold" font-size="27.5" fill="none" stroke="#000" stroke-width="0.6"><text x="711" y="290.8">c</text><text x="711" y="505.5">d</text></g>
</svg></body></html>
